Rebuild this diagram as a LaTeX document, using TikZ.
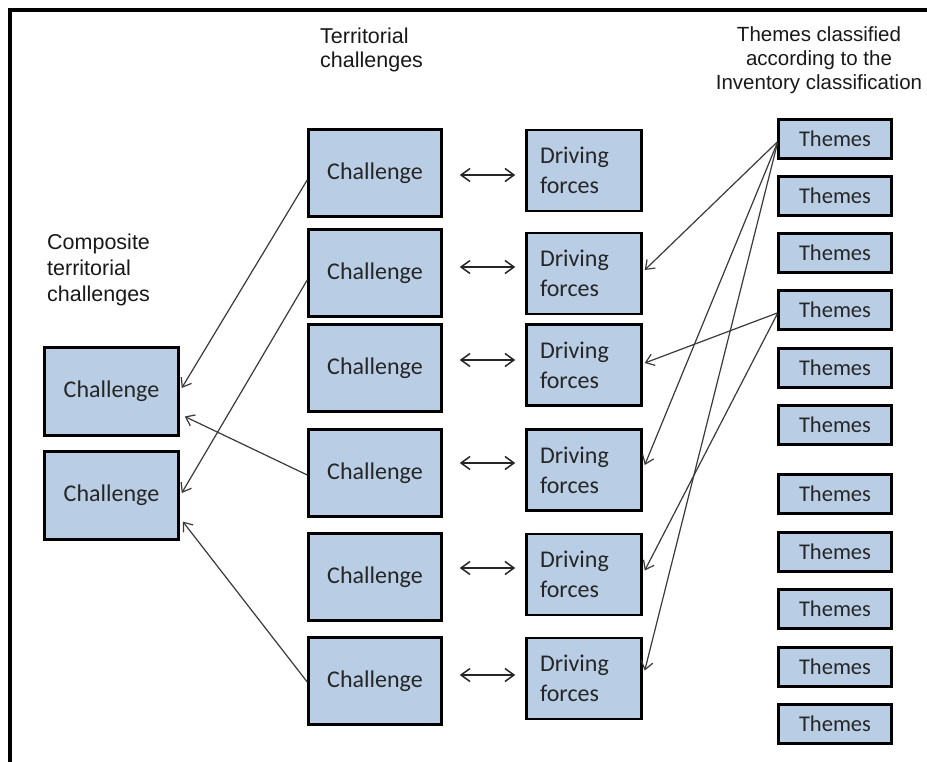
\documentclass[tikz,border=0pt]{standalone}
\usepackage{fontspec}
\setmainfont{Carlito}
\newfontfamily\hdr{Liberation Sans}
\usetikzlibrary{arrows.meta,calc}
\definecolor{boxblue}{HTML}{B9CDE5}
\definecolor{linegray}{HTML}{3A3A3A}
\definecolor{txt}{HTML}{262626}
\tikzset{
 box/.style={draw=black, line width=2.5pt, fill=boxblue, text=txt, inner sep=0pt},
 chal/.style={box, minimum width=133pt, minimum height=87pt, font=\fontsize{24}{30}\selectfont},
 drv/.style={box, minimum width=115pt, minimum height=81pt, font=\fontsize{24}{30}\selectfont, align=left, text width=88pt},
 thm/.style={box, minimum width=113pt, minimum height=39pt, font=\fontsize{22.5}{28}\selectfont},
 conn/.style={draw=linegray, line width=1.2pt, -{Straight Barb[length=8pt,width=12pt]}},
 dbl/.style={draw=black!85, line width=1.5pt, {Straight Barb[length=9pt,width=13pt]}-{Straight Barb[length=9pt,width=13pt]}},
 hdrtext/.style={text=black!90, inner sep=0pt}
}
\begin{document}
\begin{tikzpicture}[x=1pt,y=-1pt]
\useasboundingbox (0,0) rectangle (927,762);
\fill[white] (0,0) rectangle (927,762);
\draw[line width=4.5pt] (10,762) -- (10,10) -- (927,10);

% headers
\node[hdrtext, anchor=north west, align=left, font=\hdr\fontsize{21.5}{24}\selectfont] (h1) at (320,28) {Territorial\\challenges};
\node[hdrtext, anchor=north west, align=left, font=\hdr\fontsize{21.5}{26}\selectfont] (h2) at (47,234) {Composite\\territorial\\challenges};
\node[hdrtext, anchor=north, align=center, font=\hdr\fontsize{20.5}{24.3}\selectfont] (h3) at (819,26) {Themes classified\\according to the\\Inventory classification};

% middle challenges
\node[chal] (C1) at (375,173) {Challenge};
\node[chal] (C2) at (375,273) {Challenge};
\node[chal] (C3) at (375,368) {Challenge};
\node[chal] (C4) at (375,473) {Challenge};
\node[chal] (C5) at (375,577) {Challenge};
\node[chal] (C6) at (375,681) {Challenge};

% driving forces
\node[drv] (D1) at (584,170.5) {Driving\\forces};
\node[drv] (D2) at (584,273.5) {Driving\\forces};
\node[drv] (D3) at (584,365) {Driving\\forces};
\node[drv] (D4) at (584,470) {Driving\\forces};
\node[drv] (D5) at (584,574.5) {Driving\\forces};
\node[drv] (D6) at (584,678.5) {Driving\\forces};

% composite challenges
\node[chal, minimum width=134pt, minimum height=88pt] (L1) at (111.5,391.5) {Challenge};
\node[chal, minimum width=134pt, minimum height=88pt] (L2) at (111.5,495.5) {Challenge};

% themes
\foreach \i/\y in {1/139,2/196,3/253,4/310,5/368,6/425,7/494,8/552,9/609,10/667,11/724}{
  \node[thm] (T\i) at (835,\y) {Themes};
}

% double arrows
\foreach \i/\s in {1/-2,2/6,3/8,4/10,5/9,6/6}{
  \draw[dbl] ([xshift=17pt,yshift=\s pt]C\i.east) coordinate (a\i) -- ($(D\i.west |- a\i)+(-10pt,0)$);
}

% to composite challenges
\draw[conn] ([yshift=-7pt]C1.west) -- ([xshift=2pt,yshift=3.5pt]L1.east);
\draw[conn] ([yshift=-7pt]C2.west) -- ([xshift=2pt,yshift=2.5pt]L2.east);
\draw[conn] ([yshift=-2pt]C4.west) -- ([xshift=5pt,yshift=-25pt]L1.east);
\draw[conn] ([yshift=-1pt]C6.west) -- ([xshift=3pt,yshift=-26pt]L2.east);

% themes to driving forces
\draw[conn] ([yshift=-3pt]T1.west) -- ([xshift=2pt,yshift=3.5pt]D2.east);
\draw[conn] ([yshift=-4pt]T1.west) -- ([xshift=2pt,yshift=5pt]D4.east);
\draw[conn] ([yshift=-5pt]T1.west) -- ([xshift=2pt,yshift=8pt]D6.east);
\draw[conn] ([yshift=-3pt]T4.west) -- ([xshift=2pt,yshift=2pt]D3.east);
\draw[conn] ([yshift=-4pt]T4.west) -- ([xshift=2pt,yshift=4pt]D5.east);
\end{tikzpicture}
\end{document}
